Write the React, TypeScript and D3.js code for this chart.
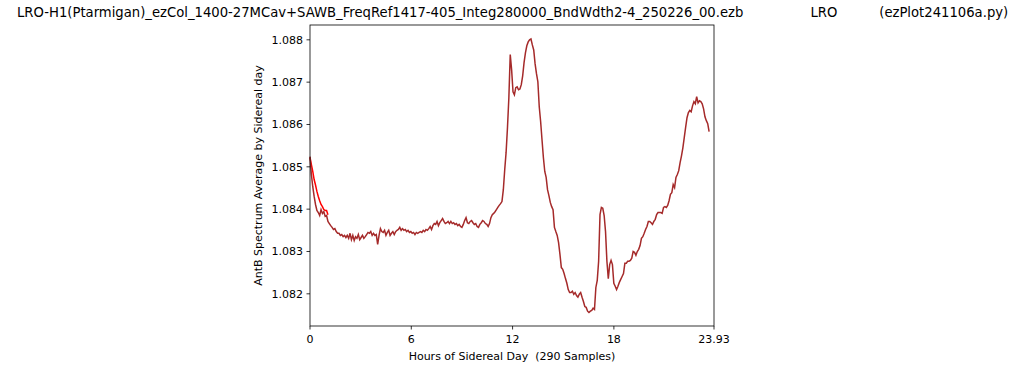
import React from "react";
import * as d3 from "d3";

const TITLE =
  "LRO-H1(Ptarmigan)_ezCol_1400-27MCav+SAWB_FreqRef1417-405_Integ280000_BndWdth2-4_250226_00.ezb                LRO          (ezPlot241106a.py)";
const X_LABEL = "Hours of Sidereal Day  (290 Samples)";
const Y_LABEL = "AntB Spectrum Average by Sidereal day";

const X_TICKS = [0, 6, 12, 18, 23.93];
const X_TICK_LABELS = ["0", "6", "12", "18", "23.93"];
const Y_TICKS = [1.082, 1.083, 1.084, 1.085, 1.086, 1.087, 1.088];
const X_DOMAIN = [0, 23.93];
const Y_DOMAIN = [1.08124, 1.08835];
const HOURS_PER_SAMPLE = 0.0818;

// AntB average by sidereal sample (290 samples)
const antB = [
  1.08524, 1.08482, 1.08453, 1.0843, 1.08411, 1.08397, 1.08392, 1.08385, 1.08399, 1.0839,
  1.08394, 1.08383, 1.08385, 1.08371, 1.08366, 1.08361, 1.08357, 1.08352, 1.08354, 1.08347,
  1.08343, 1.08343, 1.08338, 1.0834, 1.08335, 1.08338, 1.08333, 1.08338, 1.08331, 1.08343,
  1.08328, 1.08338, 1.08326, 1.08335, 1.08331, 1.0834, 1.08328, 1.08333, 1.08338, 1.08331,
  1.08335, 1.0834, 1.08345, 1.08343, 1.08347, 1.08338, 1.08343, 1.08338, 1.0834, 1.08317,
  1.08338, 1.08354, 1.08347, 1.08345, 1.0835, 1.08338, 1.08345, 1.0835, 1.08338, 1.08343,
  1.08347, 1.0834, 1.08347, 1.0835, 1.08352, 1.08357, 1.0835, 1.08354, 1.0835, 1.08352,
  1.08347, 1.0835, 1.08345, 1.08347, 1.08343, 1.08345, 1.0834, 1.08345, 1.08343, 1.08345,
  1.08347, 1.08345, 1.0835, 1.08347, 1.08352, 1.0835, 1.08354, 1.08359, 1.08352, 1.08361,
  1.08366, 1.08364, 1.08371, 1.08361, 1.08368, 1.08373, 1.08378, 1.08371, 1.08366, 1.08368,
  1.08371, 1.08366, 1.08371, 1.08366, 1.08368, 1.08364, 1.08366, 1.08361, 1.08364, 1.08359,
  1.08357, 1.08364, 1.08373, 1.0838, 1.08368, 1.08366, 1.08371, 1.08373, 1.08368, 1.08364,
  1.08366, 1.08359, 1.08357, 1.08364, 1.08368, 1.08373, 1.08371, 1.08366, 1.08364, 1.08359,
  1.08366, 1.0838, 1.08387, 1.0839, 1.08394, 1.08399, 1.08404, 1.08409, 1.08413, 1.08418,
  1.08446, 1.08493, 1.08534, 1.08593, 1.08663, 1.08765, 1.08729, 1.08677, 1.0867, 1.08687,
  1.08689, 1.08682, 1.08684, 1.08694, 1.08715, 1.08746, 1.08769, 1.08786, 1.08795, 1.088,
  1.08802, 1.08788, 1.08776, 1.08743, 1.0872, 1.08701, 1.08642, 1.08607, 1.08564, 1.08522,
  1.08489, 1.08475, 1.08446, 1.08432, 1.08416, 1.08406, 1.08399, 1.08357, 1.08347, 1.08338,
  1.08321, 1.08293, 1.08262, 1.08258, 1.08248, 1.08236, 1.08225, 1.0821, 1.08203, 1.08203,
  1.08206, 1.08199, 1.08203, 1.08196, 1.08192, 1.08199, 1.08203, 1.08192, 1.08182, 1.0817,
  1.08168, 1.08159, 1.08156, 1.08159, 1.08161, 1.08166, 1.08163, 1.08215, 1.08232, 1.08277,
  1.08387, 1.08404, 1.08402, 1.08385, 1.08347, 1.08277, 1.08236, 1.08269, 1.08279, 1.08269,
  1.08225, 1.08218, 1.0821, 1.08218, 1.08227, 1.08234, 1.08241, 1.08248, 1.08272, 1.08272,
  1.08277, 1.08277, 1.08279, 1.08284, 1.083, 1.08298, 1.08291, 1.083, 1.08305, 1.08314,
  1.08331, 1.08335, 1.08343, 1.08352, 1.08359, 1.08371, 1.08371, 1.08368, 1.08364, 1.08371,
  1.08376, 1.08387, 1.08392, 1.08392, 1.08392, 1.0839, 1.08404, 1.08406, 1.08404, 1.08409,
  1.0842, 1.08435, 1.08439, 1.08458, 1.08451, 1.08475, 1.08482, 1.08491, 1.0851, 1.08526,
  1.08545, 1.08569, 1.08593, 1.08616, 1.08628, 1.08633, 1.0863, 1.08644, 1.08654, 1.08649,
  1.08666, 1.08651, 1.08656, 1.08654, 1.08649, 1.08637, 1.08618, 1.08609, 1.08602, 1.08583,
];

// Short red trace at start of day
const antBRed = [
  1.08522, 1.08505, 1.08489, 1.0847, 1.08457, 1.08442, 1.0843, 1.0842, 1.08411, 1.08406,
  1.08399, 1.08397, 1.08397, 1.08387,
];

const M = { left: 310, right: 714, top: 25, bottom: 326 };
const FONT = "'DejaVu Sans', sans-serif";

export default function App() {
  const x = d3.scaleLinear().domain(X_DOMAIN).range([M.left, M.right]);
  const y = d3.scaleLinear().domain(Y_DOMAIN).range([M.bottom, M.top]);
  const line = d3
    .line<number>()
    .x((_, i) => x(i * HOURS_PER_SAMPLE))
    .y((d) => y(d));

  return (
    <svg
      width={1024}
      height={370}
      style={{ position: "absolute", left: 0, top: 0, background: "#fff" }}
      fontFamily={FONT}
    >
      <rect x={0} y={0} width={1024} height={370} fill="#fff" />
      <text
        x={17}
        y={17}
        textAnchor="start"
        fontSize={13.2}
        fill="#000"
        style={{ whiteSpace: "pre" }}
      >
        {TITLE}
      </text>
      <path d={line(antBRed) || ""} fill="none" stroke="#ff0000" strokeWidth={1.5} />
      <path d={line(antB) || ""} fill="none" stroke="#a52a2a" strokeWidth={1.5} />
      <rect
        x={M.left}
        y={M.top}
        width={M.right - M.left}
        height={M.bottom - M.top}
        fill="none"
        stroke="#000"
        strokeWidth={0.8}
      />
      {X_TICKS.map((t, i) => (
        <g key={"xt" + i}>
          <line x1={x(t)} x2={x(t)} y1={M.bottom} y2={M.bottom + 3.5} stroke="#000" strokeWidth={0.8} />
          <text x={x(t)} y={M.bottom + 17} textAnchor="middle" fontSize={11} fill="#000">
            {X_TICK_LABELS[i]}
          </text>
        </g>
      ))}
      {Y_TICKS.map((t, i) => (
        <g key={"yt" + i}>
          <line x1={M.left - 3.5} x2={M.left} y1={y(t)} y2={y(t)} stroke="#000" strokeWidth={0.8} />
          <text x={M.left - 7} y={y(t) + 4} textAnchor="end" fontSize={11} fill="#000">
            {d3.format(".3f")(t)}
          </text>
        </g>
      ))}
      <text x={(M.left + M.right) / 2} y={360} textAnchor="middle" fontSize={11} fill="#000" style={{ whiteSpace: "pre" }}>
        {X_LABEL}
      </text>
      <text
        transform={`translate(262, ${(M.top + M.bottom) / 2}) rotate(-90)`}
        textAnchor="middle"
        fontSize={11}
        fill="#000"
      >
        {Y_LABEL}
      </text>
    </svg>
  );
}
